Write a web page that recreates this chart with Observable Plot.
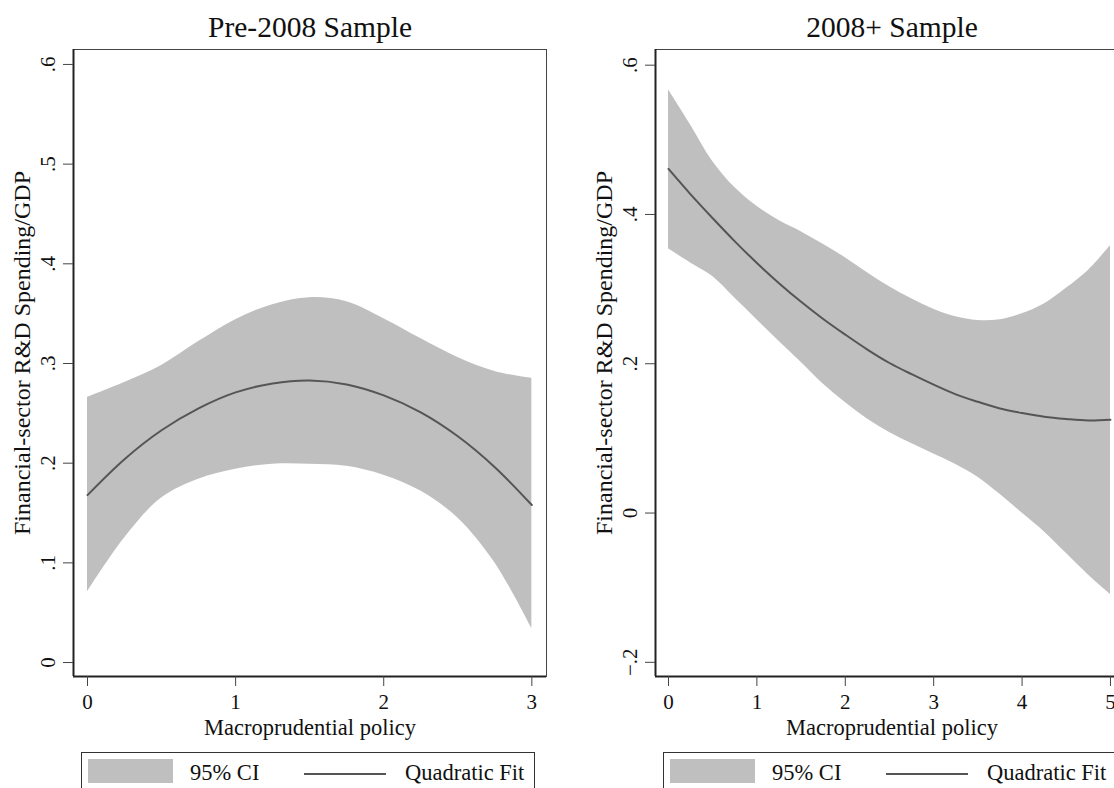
<!DOCTYPE html>
<html>
<head>
<meta charset="utf-8">
<script src="https://cdn.jsdelivr.net/npm/d3@7"></script>
<script src="https://cdn.jsdelivr.net/npm/@observablehq/plot@0.6"></script>
<style>
  html, body { margin: 0; padding: 0; background: #fff; }
  body { width: 1114px; height: 788px; overflow: hidden; position: relative; font-family: "Liberation Serif", "DejaVu Serif", serif; }
  .panel { position: absolute; top: 0; width: 560px; height: 788px; }
  .panel svg { max-width: none !important; }
  .legend { position: absolute; top: 752px; width: 454px; height: 48px; border: 1px solid #333; background: #fff; box-sizing: border-box; }
  .legend .sw { position: absolute; top: 6px; left: 6px; width: 85px; height: 24px; background: #bfbfbf; }
  .legend .ln { position: absolute; top: 20px; width: 82px; height: 0; border-top: 2px solid #555; }
  .legend .tx { position: absolute; top: 9px; font-size: 22.5px; line-height: 1; color: #111; white-space: nowrap; }
</style>
</head>
<body>
<div id="left" class="panel" style="left:0px"></div>
<div id="right" class="panel" style="left:582px"></div>

<div class="legend" style="left:81px;">
  <div class="sw"></div>
  <div class="tx" style="left:108px">95% CI</div>
  <div class="ln" style="left:222px"></div>
  <div class="tx" style="left:323px">Quadratic Fit</div>
</div>
<div class="legend" style="left:663px;">
  <div class="sw"></div>
  <div class="tx" style="left:108px">95% CI</div>
  <div class="ln" style="left:222px"></div>
  <div class="tx" style="left:323px">Quadratic Fit</div>
</div>

<script>
// ---------- Data ----------
const titles = ["Pre-2008 Sample", "2008+ Sample"];
const xLabel = "Macroprudential policy";
const yLabel = "Financial-sector R&D Spending/GDP";

// Pre-2008 sample
const preX   = [0, 0.25, 0.5, 0.75, 1, 1.25, 1.5, 1.75, 2, 2.25, 2.5, 2.75, 3];
const preFit = [0.168, 0.204, 0.233, 0.255, 0.271, 0.280, 0.283, 0.279, 0.268, 0.251, 0.227, 0.196, 0.158];
const preHi  = [0.266, 0.281, 0.298, 0.322, 0.344, 0.359, 0.366, 0.362, 0.345, 0.325, 0.306, 0.292, 0.285];
const preLo  = [0.071, 0.125, 0.165, 0.184, 0.194, 0.199, 0.199, 0.197, 0.188, 0.172, 0.145, 0.100, 0.034];
const preXTicks = [0, 1, 2, 3];
const preYTicks = [0, 0.1, 0.2, 0.3, 0.4, 0.5, 0.6];

// 2008+ sample
const postX   = [0, 0.25, 0.5, 0.75, 1, 1.25, 1.5, 1.75, 2, 2.25, 2.5, 2.75, 3, 3.25, 3.5, 3.75, 4, 4.25, 4.5, 4.75, 5];
const postFit = [0.461, 0.427, 0.395, 0.364, 0.335, 0.308, 0.283, 0.260, 0.239, 0.219, 0.201, 0.186, 0.172, 0.159, 0.149, 0.140, 0.134, 0.129, 0.126, 0.124, 0.125];
const postHi  = [0.567, 0.520, 0.471, 0.436, 0.411, 0.392, 0.377, 0.360, 0.342, 0.322, 0.303, 0.287, 0.273, 0.263, 0.258, 0.259, 0.267, 0.280, 0.301, 0.325, 0.358];
const postLo  = [0.354, 0.335, 0.317, 0.288, 0.259, 0.230, 0.202, 0.173, 0.148, 0.126, 0.108, 0.093, 0.079, 0.065, 0.048, 0.025, 0.000, -0.025, -0.054, -0.083, -0.109];
const postXTicks = [0, 1, 2, 3, 4, 5];
const postYTicks = [-0.2, 0, 0.2, 0.4, 0.6];

// ---------- Drawing ----------
const fmtY = d => d === 0 ? "0" : d3.format(".1f")(d).replace("0.", ".");

function panel({title, xs, fit, lo, hi, xTicks, yTicks, xDomain, yDomain}) {
  const rows = xs.map((x, i) => ({x, fit: fit[i], lo: lo[i], hi: hi[i]}));
  return Plot.plot({
    width: 560,
    height: 788,
    marginTop: 49,
    marginBottom: 112,
    marginLeft: 73,
    marginRight: 14,
    style: {fontFamily: "Liberation Serif, DejaVu Serif, serif", fontSize: "21px", color: "#111", background: "transparent", maxWidth: "none"},
    x: {domain: xDomain},
    y: {domain: yDomain},
    marks: [
      Plot.areaY(rows, {x: "x", y1: "lo", y2: "hi", fill: "#bfbfbf", curve: "catmull-rom"}),
      Plot.line(rows, {x: "x", y: "fit", stroke: "#555", strokeWidth: 2, curve: "catmull-rom"}),
      Plot.frame({stroke: "#444", strokeWidth: 1}),
      Plot.ruleY([yDomain[0]], {stroke: "#222", strokeWidth: 2}),
      Plot.ruleX([xDomain[0]], {stroke: "#222", strokeWidth: 2}),
      Plot.axisX({ticks: xTicks, tickSize: 10, tickPadding: 8, tickFormat: d3.format("d"), stroke: "#444", label: null, fontSize: 21}),
      Plot.axisY({ticks: yTicks, tickSize: 10, tickPadding: 9, tickRotate: -90, tickFormat: fmtY, stroke: "#444", label: null, fontSize: 21}),
      Plot.text([xLabel], {frameAnchor: "bottom", dy: 51, lineAnchor: "middle", fontSize: 22.5, fill: "#111"}),
      Plot.text([yLabel], {frameAnchor: "left", dx: -51, dy: -10, rotate: -90, textAnchor: "middle", lineAnchor: "middle", fontSize: 24, fill: "#111"}),
      Plot.text([title], {frameAnchor: "top", dy: -22, lineAnchor: "middle", fontSize: 29.5, fill: "#111"})
    ]
  });
}

document.getElementById("left").appendChild(panel({
  title: titles[0], xs: preX, fit: preFit, lo: preLo, hi: preHi,
  xTicks: preXTicks, yTicks: preYTicks,
  xDomain: [-0.0945, 3.099], yDomain: [-0.014, 0.615]
}));
document.getElementById("right").appendChild(panel({
  title: titles[1], xs: postX, fit: postFit, lo: postLo, hi: postHi,
  xTicks: postXTicks, yTicks: postYTicks,
  xDomain: [-0.147, 5.204], yDomain: [-0.219, 0.621]
}));
</script>
</body>
</html>
